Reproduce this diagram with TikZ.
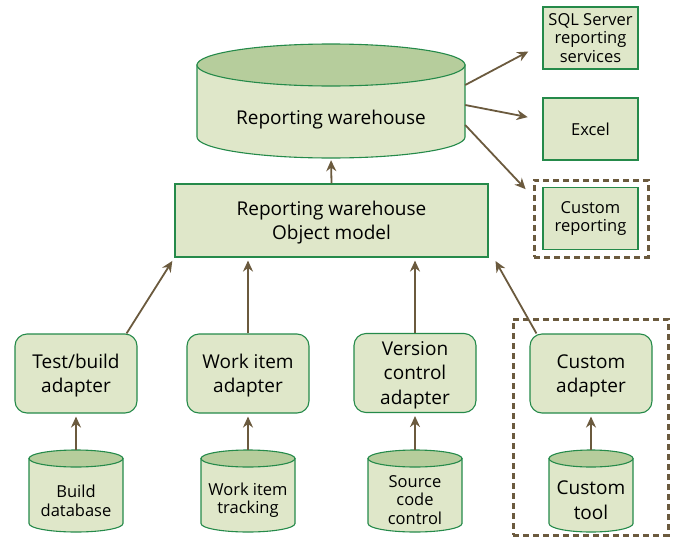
\documentclass[tikz,border=0pt]{standalone}
\usepackage{fontspec}
\setmainfont{Open Sans}
\usetikzlibrary{arrows.meta}
\definecolor{boxfill}{HTML}{DFE7C9}
\definecolor{topfill}{HTML}{B6CD9C}
\definecolor{edge}{HTML}{258A4A}
\definecolor{arrowc}{HTML}{6B5A3E}
\newcommand{\drum}[6]{%
  \draw[drumbody] (#2-#5,#3) -- (#2-#5,#4) arc[start angle=180, end angle=0, x radius=#5, y radius=#6] -- (#2+#5,#3) -- cycle;
  \draw[drumtop] (#2,#3) ellipse[x radius=#5, y radius=#6];
  \node[inner sep=0pt, minimum width={2*#5*1pt}, minimum height={(#4-#3+2*#6)*1pt}] (#1) at (#2,{(#3+#4)/2}) {};}
\begin{document}
\begin{tikzpicture}[x=1pt, y=-1pt, >={Stealth[length=11pt,width=10pt]},
    big/.style={font=\fontsize{19}{24.5}\selectfont, align=center},
    small/.style={font=\fontsize{16.5}{18.5}\selectfont, align=center},
    box/.style={draw=edge, line width=1.1pt, fill=boxfill, inner sep=0pt},
    adapter/.style={box, big, text depth=0pt, rounded corners=12pt, minimum width=122pt, minimum height=79pt},
    outbox/.style={box, small, minimum width=95pt, minimum height=62pt},
    drumbody/.style={draw=edge, line width=1.1pt, fill=boxfill},
    drumtop/.style={draw=edge, line width=1.1pt, fill=topfill},
    ring/.style={draw=arrowc, line width=3pt, dash pattern=on 6pt off 4pt, inner sep=0pt},
    link/.style={->, draw=arrowc, line width=1.8pt}]
    \useasboundingbox (0,0) rectangle (676,538);
    \drum{wh}{331}{65}{137}{134}{21}
    \node[big] (whlabel) at (331,120) {Reporting warehouse};
    \node[box, big, text depth=0pt, minimum width=313pt, minimum height=73pt] (om) at (331.5,220.5) {Reporting warehouse\\Object model};
    \node[outbox] (sql) at (590.5,38) {SQL Server\\reporting\\services};
    \node[outbox] (excel) at (590.5,129) {Excel};
    \node[outbox] (crep) at (590.5,218.5) {Custom\\reporting};
    \node[ring, minimum width=114pt, minimum height=77pt] (crring) at (591,218.5) {};
    \node[ring, minimum width=155pt, minimum height=216pt] (caring) at (590.5,427) {};
    \node[adapter] (tb) at (76,373.5) {Test/build\\adapter};
    \node[adapter] (wi) at (248,373.5) {Work item\\adapter};
    \node[adapter] (vc) at (415,373) {Version\\control\\adapter};
    \node[adapter] (ca) at (591,373.5) {Custom\\adapter};
    \drum{bd}{76}{458.5}{523.5}{47}{8.5}
    \drum{wt}{248}{458.5}{523.5}{47}{8.5}
    \drum{sc}{415}{458.5}{523.5}{47}{8.5}
    \drum{ct}{591}{458.5}{523.5}{42}{8.5}
    \node[small] (bdlabel) at (76,501) {Build\\database};
    \node[small] (wtlabel) at (248,500) {Work item\\tracking};
    \node[small] (sclabel) at (415,500) {Source\\code\\control};
    \node[big] (ctlabel) at (591,500) {Custom\\tool};
    \draw[link, shorten >=2pt] (om.north) -- (wh.south);
    \draw[link, shorten >=16pt] ([yshift=16pt]wh.east) -- ([yshift=-6pt]sql.west);
    \draw[link, shorten >=15pt] ([yshift=-4pt]wh.east) -- ([yshift=9pt]excel.west);
    \draw[link, shorten >=10pt] ([yshift=-24pt]wh.east) -- ([yshift=-18pt]crring.north west);
    \draw[link, shorten >=4pt] ([xshift=-11pt]tb.north east) -- (om.south west);
    \draw[link, shorten >=3pt] (wi.north) -- (wi.north |- om.south);
    \draw[link, shorten >=3pt] (vc.north) -- (vc.north |- om.south);
    \draw[link, shorten >=4pt] ([xshift=7pt]ca.north west) -- ([xshift=5pt]om.south east);
    \draw[link, shorten >=3pt] (bd.north) -- (tb.south);
    \draw[link, shorten >=3pt] (wt.north) -- (wi.south);
    \draw[link, shorten >=3pt] (sc.north) -- (vc.south);
    \draw[link, shorten >=3pt] (ct.north) -- (ca.south);
\end{tikzpicture}
\end{document}
